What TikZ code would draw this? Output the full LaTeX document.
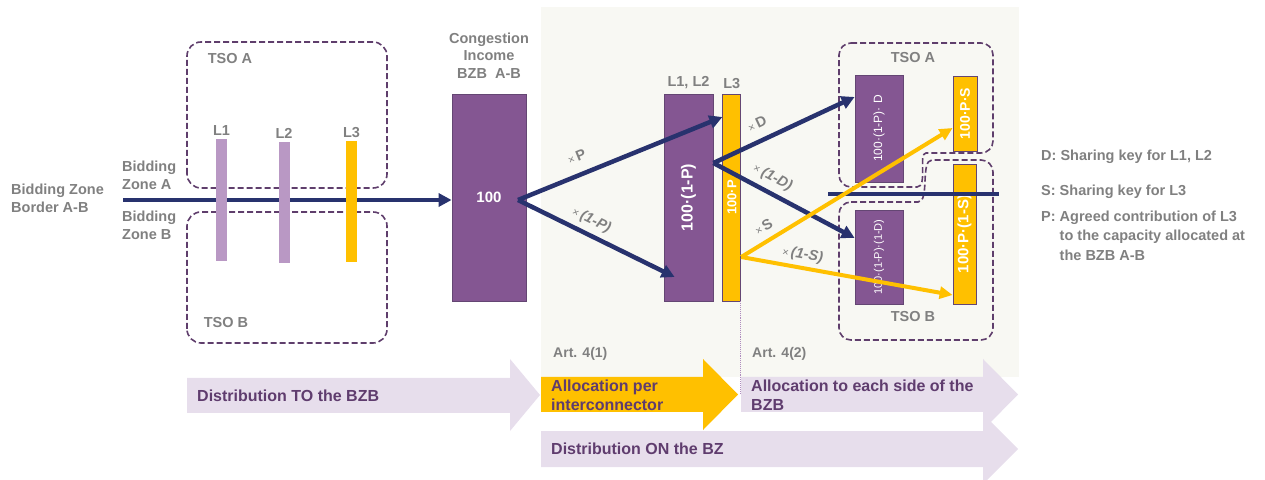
\documentclass[tikz,border=0pt]{standalone}
\usepackage{fontspec}
\setmainfont{Liberation Sans}
\usepackage{graphicx}
\usetikzlibrary{arrows.meta,positioning}

\definecolor{bznavy}{RGB}{40,50,110}
\definecolor{ciplum}{RGB}{132,86,146}
\definecolor{ciedge}{RGB}{100,70,115}
\definecolor{icgold}{RGB}{255,192,0}
\definecolor{iclilac}{RGB}{185,152,196}
\definecolor{tsoedge}{RGB}{95,62,108}
\definecolor{txtgrey}{RGB}{128,128,128}
\definecolor{artpaper}{RGB}{248,248,243}
\definecolor{stepband}{RGB}{231,222,236}
\definecolor{steptext}{RGB}{95,60,110}
\definecolor{splitline}{RGB}{175,140,190}

\newcommand{\xby}{{\mdseries\fontsize{11}{11}\selectfont ×}\,}

\begin{document}
\begin{tikzpicture}[x=1pt, y=1pt,
    flow/.style={draw=bznavy, line width=4.5pt, -{Triangle[length=13pt,width=13pt]}},
    goldflow/.style={draw=icgold, line width=4pt, -{Triangle[length=13pt,width=12pt]}},
    income/.style={draw=ciedge, line width=.8pt, fill=ciplum, text=white, inner sep=0pt,
      font=\fontsize{16}{16}\selectfont\bfseries},
    share/.style={income, fill=icgold},
    bar/.style={fill=iclilac, inner sep=0pt, minimum width=11pt},
    tso/.style={draw=tsoedge, line width=1.6pt, dash pattern=on 6pt off 3pt, rounded corners=14pt},
    lbl/.style={text=txtgrey, inner sep=1pt, font=\fontsize{14.5}{17.5}\selectfont\bfseries},
    steptxt/.style={text=steptext, anchor=west, align=left, inner sep=0pt,
      font=\fontsize{16}{19}\selectfont\bfseries}]

  \useasboundingbox (0,0) rectangle (1265,479);
  \fill[artpaper] (541,102) rectangle (1019,472);

  % steps along the bottom
  \fill[stepband] (187,66) -- (510,66) -- (510,48) -- (540,84) -- (510,120) -- (510,101) -- (187,101) -- cycle;
  \fill[icgold] (541,67) -- (703,67) -- (703,49) -- (738,84.5) -- (703,120) -- (703,102) -- (541,102) -- cycle;
  \fill[stepband] (741,67) -- (983,67) -- (983,49) -- (1018,84.5) -- (983,120) -- (983,102) -- (741,102) -- cycle;
  \fill[stepband] (541,12) -- (983,12) -- (983,-5) -- (1018,30) -- (983,65) -- (983,48) -- (541,48) -- cycle;
  \node[steptxt] (to-bzb) at (197,83.5) {Distribution TO the BZB};
  \node[steptxt] (per-ic) at (551,84) {Allocation per\\interconnector};
  \node[steptxt] (each-side) at (751,84) {Allocation to each side of the\\BZB};
  \node[steptxt] (on-bz) at (551,30) {Distribution ON the BZ};
  \node[lbl, anchor=west, font=\fontsize{14}{17}\selectfont\bfseries] (art1) at (552,125) {Art. 4(1)};
  \node[lbl, anchor=west, font=\fontsize{14}{17}\selectfont\bfseries] (art2) at (751,125) {Art. 4(2)};

  % bidding zone border
  \node[lbl, anchor=west, align=left] (bzb) at (10,280.5) {Bidding Zone\\Border A-B};
  \node[lbl, anchor=west, align=left] (zone-a) at (121,303.5) {Bidding\\Zone A};
  \node[lbl, anchor=west, align=left] (zone-b) at (121,253.5) {Bidding\\Zone B};
  \draw[tso] (187,291) rectangle (387,437);
  \draw[tso] (187,136) rectangle (387,267);
  \node[lbl] (tsoa-l) at (230,420) {TSO A};
  \node[lbl] (tsob-l) at (226,156) {TSO B};

  \node[income, minimum width=74pt, minimum height=207pt, font=\fontsize{15}{15}\selectfont\bfseries] (ci) at (489,281.5) {100};
  \node[lbl, align=center, above=14pt of ci] (ci-title) {Congestion\\Income\\BZB~~A-B};

  \coordinate (bzb-in) at (123,279);
  \draw[flow] (bzb-in) -- (ci.west |- bzb-in);

  \node[bar, minimum height=122pt] (l1) at (221.5,279) {};
  \node[bar, minimum height=121pt] (l2) at (284,276.5) {};
  \node[bar, minimum height=121pt, fill=icgold] (l3) at (351.5,277.5) {};
  \node[lbl, above=2pt of l1] (l1-name) {L1};
  \node[lbl, above=2pt of l2] (l2-name) {L2};
  \node[lbl, above=2pt of l3] (l3-name) {L3};

  % per interconnector
  \node[income, minimum width=49pt, minimum height=207pt] (l12box) at (688.5,281.5) {\rotatebox{90}{100·(1-P)}};
  \node[share, minimum width=18pt, minimum height=207pt, right=9pt of l12box,
    font=\fontsize{13}{13}\selectfont\bfseries] (l3box) {\rotatebox{90}{100·P}};
  \node[lbl, above=4pt of l12box] (l12-name) {L1, L2};
  \node[lbl, above=4pt of l3box] (l3box-name) {L3};
  \draw[splitline, densely dotted, line width=.9pt] ([xshift=-1pt]l3box.south east) -- ++(0,-92);

  % each side
  \draw[tso, rounded corners=12pt] (839,436) -- (993,436) -- (993,326) -- (938,326)
    .. controls (918,326) and (928,292) .. (905,292) -- (839,292) -- cycle;
  \draw[tso, rounded corners=12pt] (839,277) -- (906,277)
    .. controls (930,277) and (920,319) .. (944,319) -- (993,319) -- (993,139) -- (839,139) -- cycle;
  \node[lbl] (tsoa-r) at (913,421) {TSO A};
  \node[lbl] (tsob-r) at (913,162) {TSO B};

  \node[income, minimum width=48pt, minimum height=107pt, font=\fontsize{12}{12}\selectfont] (kabox) at (879,350.5) {\rotatebox{90}{100·(1-P)· D}};
  \node[share, minimum width=24pt, minimum height=75pt, font=\fontsize{14}{14}\selectfont\bfseries] (psbox) at (965,365.5) {\rotatebox{90}{100·P·S}};
  \node[income, minimum width=48pt, minimum height=94pt, font=\fontsize{11}{11}\selectfont] (kbbox) at (879,222) {\rotatebox{90}{100·(1-P)·(1-D)}};
  \node[share, minimum width=23pt, minimum height=140pt, font=\fontsize{15}{15}\selectfont\bfseries] (prbox) at (964.5,245) {\rotatebox{90}{100·P·(1-S)}};

  \coordinate (bzr-w) at (828,285);
  \coordinate (bzr-e) at (999,285);
  \draw[bznavy, line width=4.5pt] (bzr-w) -- (bzr-e);

  % sharing
  \coordinate (ci-out) at (518,279);
  \draw[flow] (ci-out) -- node[lbl, sloped, above=10pt, pos=.32] (lab-p) {\xby P} ([yshift=80.5pt]l3box.west);
  \draw[flow] (ci-out) -- node[lbl, sloped, above=4pt, pos=.43] (lab-1p) {\xby\itshape(1-P)} ([xshift=11pt,yshift=-79.5pt]l12box.west);

  \coordinate (l12-out) at ([yshift=34.5pt]l12box.east);
  \draw[flow] (l12-out) -- node[lbl, sloped, above=9pt, pos=.36] (lab-d) {\xby D} ([yshift=31.5pt]kabox.west);
  \draw[flow] (l12-out) -- node[lbl, sloped, above=5pt, pos=.37] (lab-1d) {\xby\itshape(1-D)} ([yshift=19pt]kbbox.west);

  \coordinate (l3-out) at ([yshift=-59.5pt]l3box.east);
  \draw[goldflow] (l3-out) -- node[lbl, sloped, above=6pt, pos=.14] (lab-s) {\xby S} ([yshift=-14.5pt]psbox.west);
  \draw[goldflow] (l3-out) -- node[lbl, sloped, above=3pt, pos=.28] (lab-1s) {\xby\itshape(1-S)} ([yshift=-61pt]prbox.west);

  % keys
  \node[lbl, anchor=west] (key-d) at (1040,322) {D: Sharing key for L1, L2};
  \node[lbl, anchor=west] (key-s) at (1040,287) {S: Sharing key for L3};
  \node[lbl, anchor=west, font=\fontsize{14.5}{19.5}\selectfont\bfseries] (key-p) at (1040,242)
    {\begin{tabular}{@{}l@{~}l@{}}P: & Agreed contribution of L3\\ & to the capacity allocated at\\ & the BZB A-B\end{tabular}};
\end{tikzpicture}
\end{document}
